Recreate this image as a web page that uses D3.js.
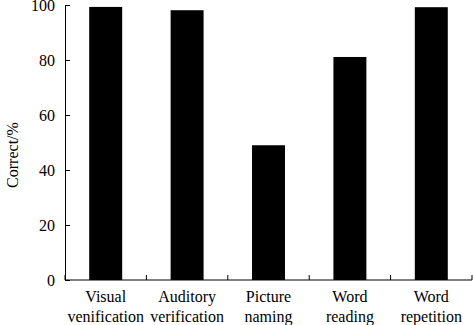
<!DOCTYPE html>
<html>
<head>
<meta charset="utf-8">
<script src="https://cdn.jsdelivr.net/npm/d3@7"></script>
<style>
  body { margin: 0; background: #fff; }
  text { font-family: "Liberation Serif", "Times New Roman", serif; fill: #000; }
</style>
</head>
<body>
<div id="chart"></div>
<script>
// task labels (two lines each) and percent correct
var taskLine1 = ["Visual", "Auditory", "Picture", "Word", "Word"];
var taskLine2 = ["venification", "verification", "naming", "reading", "repetition"];
var correct = [99.3, 98.1, 49.0, 81.1, 99.2];
var yTicks = [0, 20, 40, 60, 80, 100];

var width = 473, height = 325;
// plot edges (don't call it "top", that one belongs to window)
var plotLeft = 65, plotRight = 472, plotTop = 5, plotBottom = 280;

var svg = d3.select("#chart")
    .append("svg")
    .attr("width", width)
    .attr("height", height);

var x = d3.scaleBand()
    .domain(d3.range(correct.length))
    .range([plotLeft, plotRight])
    .paddingInner(0.595)
    .paddingOuter(0.2975);

var y = d3.scaleLinear()
    .domain([0, 100])
    .range([plotBottom, plotTop]);

// bars
svg.selectAll("rect.bar")
    .data(correct)
    .enter()
    .append("rect")
        .attr("class", "bar")
        .attr("fill", "#000")
        .attr("x", function (d, i) { return x(i); })
        .attr("width", x.bandwidth())
        .attr("y", function (d) { return y(d); })
        .attr("height", function (d) { return plotBottom - y(d); });

// y axis, ticks pointing inward
var yAxis = svg.append("g")
    .attr("transform", "translate(" + plotLeft + ",0)")
    .call(d3.axisLeft(y).tickValues(yTicks).tickSizeInner(-5).tickSizeOuter(0).tickPadding(10));
yAxis.selectAll("text").attr("font-size", 16).attr("font-family", null);

// x axis: line with tick marks at band boundaries
var xAxis = svg.append("g");
xAxis.append("line")
    .attr("x1", plotLeft).attr("x2", plotRight)
    .attr("y1", plotBottom).attr("y2", plotBottom)
    .attr("stroke", "#000");
var bounds = d3.range(correct.length + 1).map(function (i) { return plotLeft + i * x.step(); });
xAxis.selectAll("line.tick")
    .data(bounds)
    .enter()
    .append("line")
        .attr("class", "tick")
        .attr("x1", function (d) { return d; })
        .attr("x2", function (d) { return d; })
        .attr("y1", plotBottom)
        .attr("y2", plotBottom - 5)
        .attr("stroke", "#000");

// category labels
var labels = svg.selectAll("text.cat")
    .data(correct)
    .enter()
    .append("text")
        .attr("class", "cat")
        .attr("text-anchor", "middle")
        .attr("font-size", 16);
labels.append("tspan")
    .attr("x", function (d, i) { return x(i) + x.bandwidth() / 2; })
    .attr("y", 302)
    .text(function (d, i) { return taskLine1[i]; });
labels.append("tspan")
    .attr("x", function (d, i) { return x(i) + x.bandwidth() / 2; })
    .attr("y", 322)
    .text(function (d, i) { return taskLine2[i]; });

// y axis title
svg.append("text")
    .attr("transform", "translate(18,155) rotate(-90)")
    .attr("text-anchor", "middle")
    .attr("font-size", 16)
    .text("Correct/%");
</script>
</body>
</html>
